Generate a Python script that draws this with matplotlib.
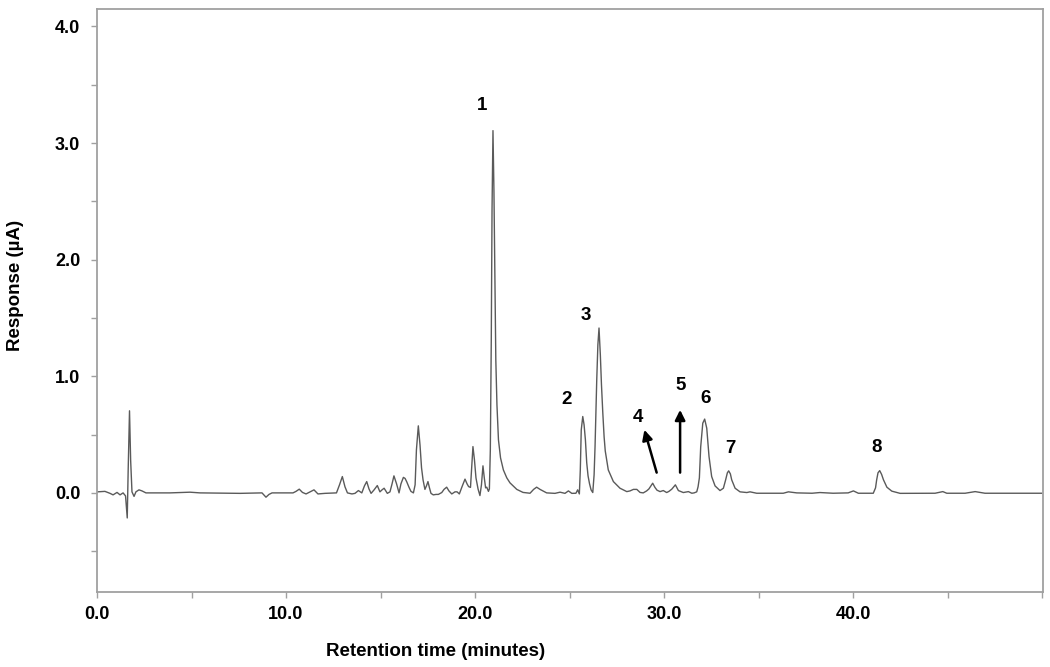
import matplotlib
matplotlib.use("Agg")
import matplotlib.pyplot as plt
from matplotlib.ticker import MultipleLocator, FuncFormatter

plt.rcParams['font.family'] = ['Liberation Sans', 'DejaVu Sans']

# Chromatogram trace (time in minutes, response in µA)
time_min = [0.03, 0.42, 0.69, 0.85, 1.06, 1.22, 1.38, 1.51, 1.60, 1.65, 1.72, 1.78, 1.85, 1.96,
            2.06, 2.22, 2.38, 2.59, 3.86, 4.92, 5.45, 7.57, 8.73, 8.94, 9.10, 9.26,
            10.37, 10.53, 10.70, 10.87, 11.06, 11.32, 11.48, 11.69, 12.06, 12.67, 12.83, 12.98,
            13.12, 13.25, 13.49, 13.65, 13.83, 14.01, 14.15, 14.27, 14.39, 14.50, 14.66, 14.83,
            14.97, 15.08, 15.19, 15.36, 15.50, 15.61, 15.71, 15.85, 15.98, 16.08, 16.21, 16.30,
            16.39, 16.51, 16.61, 16.74, 16.83, 16.90, 17.00, 17.09, 17.17, 17.25, 17.35, 17.43,
            17.51, 17.59, 17.67, 17.79, 17.94, 18.06, 18.24, 18.36, 18.50, 18.62, 18.77, 18.94,
            19.05, 19.17, 19.31, 19.47, 19.58, 19.66, 19.76, 19.83, 19.89, 19.97, 20.05, 20.16,
            20.26, 20.34, 20.42, 20.49, 20.56, 20.62, 20.71, 20.76,
            20.81, 20.86, 20.90, 20.95, 21.00, 21.05, 21.10, 21.16, 21.24, 21.35, 21.50, 21.68,
            21.85, 22.21, 22.54, 22.91, 23.10, 23.26, 23.44, 23.79, 24.23, 24.50, 24.76, 24.94,
            25.12, 25.34, 25.43, 25.52, 25.57, 25.62, 25.70, 25.77, 25.84, 25.91, 25.98, 26.06,
            26.14, 26.23, 26.30, 26.35, 26.44, 26.50, 26.56, 26.63, 26.69, 26.76, 26.83, 26.89,
            27.05, 27.32, 27.67, 28.03, 28.20, 28.38, 28.56, 28.73, 28.90, 29.08, 29.20, 29.40,
            29.52, 29.63, 29.79, 29.96, 30.14, 30.26, 30.41, 30.60, 30.76, 31.02, 31.29, 31.47,
            31.59, 31.73, 31.80, 31.87, 31.94, 32.05, 32.15, 32.26, 32.38, 32.52, 32.70, 32.96,
            33.14, 33.26, 33.35, 33.42, 33.51, 33.58, 33.76, 34.02, 34.38, 34.55, 34.90, 36.31,
            36.58, 37.02, 37.83, 38.25, 38.94, 39.74, 40.02, 40.28, 41.07, 41.19, 41.25, 41.32,
            41.41, 41.51, 41.61, 41.79, 42.05, 42.49, 44.34, 44.75, 44.96, 45.93, 46.46, 46.98,
            49.98]
response_uA = [0.009, 0.013, -0.004, -0.017, 0.004, -0.017, 0.0, -0.026, -0.215, 0.20, 0.704, 0.28, 0.009, -0.03,
               0.009, 0.026, 0.017, 0.0, 0.0, 0.006, 0.0, -0.004, 0.0, -0.037, -0.013, 0.0,
               0.0, 0.013, 0.032, 0.004, -0.009, 0.013, 0.026, -0.009, -0.004, 0.0, 0.069, 0.14,
               0.052, 0.0, -0.009, -0.004, 0.02, 0.0, 0.06, 0.097, 0.034, -0.004, 0.026, 0.063,
               0.009, 0.026, 0.04, -0.004, 0.009, 0.077, 0.146, 0.077, 0.0, 0.077, 0.133, 0.124,
               0.094, 0.047, 0.013, 0.0, 0.069, 0.369, 0.575, 0.41, 0.215, 0.112, 0.03, 0.06,
               0.097, 0.043, -0.004, -0.017, -0.013, -0.013, 0.003, 0.03, 0.049, 0.017, -0.009, 0.009,
               0.009, -0.009, 0.052, 0.118, 0.077, 0.054, 0.047, 0.24, 0.397, 0.283, 0.129, 0.034,
               -0.023, 0.069, 0.232, 0.129, 0.043, 0.049, 0.013, 0.034,
               0.369, 1.313, 2.43, 3.107, 2.60, 1.83, 1.14, 0.755, 0.455, 0.30, 0.197, 0.129,
               0.086, 0.03, 0.004, -0.003, 0.03, 0.049, 0.03, 0.0, -0.004, 0.006, -0.004, 0.017,
               -0.004, -0.003, 0.026, -0.009, 0.197, 0.54, 0.655, 0.584, 0.455, 0.258, 0.146, 0.077,
               0.026, 0.003, 0.155, 0.397, 0.97, 1.27, 1.414, 1.185, 0.927, 0.687, 0.48, 0.36,
               0.197, 0.097, 0.04, 0.011, 0.017, 0.03, 0.03, 0.004, 0.0, 0.017, 0.034, 0.083,
               0.047, 0.023, 0.011, 0.02, 0.003, 0.013, 0.032, 0.069, 0.02, 0.003, 0.011, -0.003,
               0.0, 0.009, 0.052, 0.129, 0.395, 0.598, 0.633, 0.555, 0.312, 0.14, 0.06, 0.02,
               0.04, 0.112, 0.172, 0.189, 0.163, 0.112, 0.04, 0.009, 0.003, 0.009, -0.003, -0.003,
               0.009, 0.0, -0.003, 0.003, -0.003, 0.0, 0.017, -0.003, -0.003, 0.043, 0.112, 0.172,
               0.191, 0.159, 0.112, 0.049, 0.015, -0.004, -0.003, 0.011, -0.003, -0.003, 0.011, -0.003,
               -0.003]

# Peak labels
peak_labels = ["1", "2", "3", "4", "5", "6", "7", "8"]
label_x = [20.39, 24.85, 25.85, 28.64, 30.90, 32.22, 33.49, 41.24]
label_y = [3.32, 0.80, 1.52, 0.65, 0.92, 0.81, 0.38, 0.39]

# Arrows (tail -> head) for peaks 4 and 5
arrow_tail_x = [29.61, 30.85]
arrow_tail_y = [0.174, 0.174]
arrow_head_x = [28.96, 30.85]
arrow_head_y = [0.541, 0.712]

x_major = [0, 10, 20, 30, 40]
y_major = [0, 1, 2, 3, 4]

fig = plt.figure(figsize=(10.5, 6.67), dpi=100)
ax = fig.add_axes([97/1050, 1-592/667, (1043-97)/1050, (592-9)/667])

ax.plot(time_min, response_uA, color='#5a5a5a', lw=1.0)

for lab, lx, ly in zip(peak_labels, label_x, label_y):
    ax.text(lx, ly, lab, ha='center', va='center', fontsize=13.5, fontweight='bold')

for tx, ty, hx, hy in zip(arrow_tail_x, arrow_tail_y, arrow_head_x, arrow_head_y):
    ax.annotate('', xy=(hx, hy), xytext=(tx, ty),
                arrowprops=dict(arrowstyle='-|>,head_length=0.6,head_width=0.3',
                                color='black', lw=1.8, shrinkA=0, shrinkB=0))

ax.set_xlim(0, 50.05)
ax.set_ylim(-0.85, 4.15)
ax.xaxis.set_major_locator(MultipleLocator(5))
ax.yaxis.set_major_locator(MultipleLocator(0.5))
ax.xaxis.set_major_formatter(FuncFormatter(lambda v, p: f"{v:.1f}" if round(v) in x_major and abs(v - round(v)) < 1e-6 else ""))
ax.yaxis.set_major_formatter(FuncFormatter(lambda v, p: f"{v:.1f}" if abs(v - round(v)) < 1e-6 and round(v) in y_major else ""))

for s in ax.spines.values():
    s.set_color('#a0a0a0')
    s.set_linewidth(1.3)
ax.tick_params(axis='both', direction='out', length=4, width=1, color='#a0a0a0',
               labelsize=13, labelcolor='black')
ax.tick_params(axis='y', pad=8)
ax.tick_params(axis='x', pad=6)
for lbl in ax.get_xticklabels() + ax.get_yticklabels():
    lbl.set_fontweight('bold')

ax.set_xlabel('Retention time (minutes)', fontsize=13.5, fontweight='bold')
ax.set_ylabel('Response (µA)', fontsize=13.5, fontweight='bold')
ax.xaxis.set_label_coords(0.358, -0.0875)
ax.yaxis.set_label_coords(-0.077, 0.525)

fig.savefig('out.png', dpi=100)
